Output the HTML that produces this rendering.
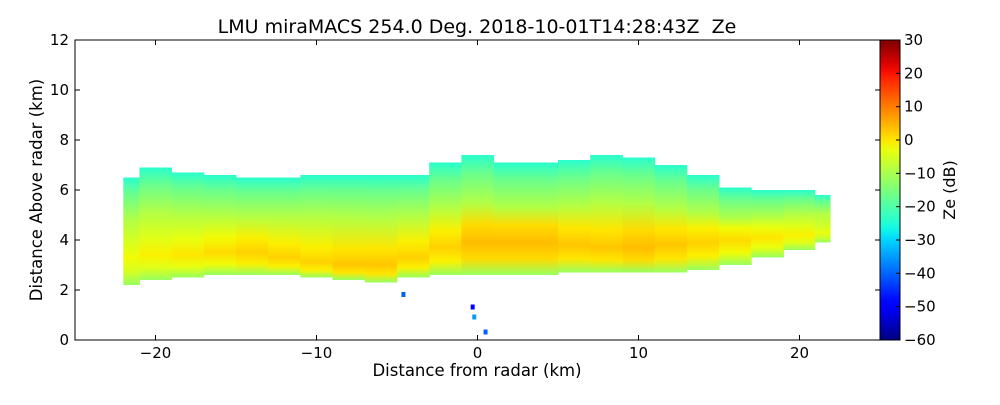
<!DOCTYPE html>
<html><head><meta charset="utf-8"><style>
body{margin:0;background:#fff;}
svg text{font-family:"DejaVu Sans","Liberation Sans",sans-serif;fill:#000;}
</style></head><body>
<svg id="c" width="1000" height="400" xmlns="http://www.w3.org/2000/svg">
<defs id="defs"></defs>
<text x="477" y="33" font-size="19" text-anchor="middle" xml:space="preserve">LMU miraMACS 254.0 Deg. 2018-10-01T14:28:43Z  Ze</text>
<g id="plot"></g>
<g id="axes"></g>
</svg>
<script>
const xKm=[-22,-20,-18,-16,-14,-12,-10,-8,-6,-4,-2,0,2,4,6,8,10,12,14,16,18,20,21.9];
const topKm=[6.5,6.9,6.7,6.6,6.5,6.5,6.6,6.6,6.6,6.6,7.1,7.4,7.1,7.1,7.2,7.4,7.3,7.0,6.6,6.1,6.0,6.0,5.8];
const baseKm=[2.2,2.4,2.5,2.6,2.6,2.6,2.5,2.4,2.3,2.5,2.6,2.6,2.6,2.6,2.7,2.7,2.7,2.7,2.8,3.0,3.3,3.6,3.9];
const coreKm=[3.3,3.4,3.4,3.5,3.5,3.3,3.1,3.0,3.0,3.3,3.7,3.9,3.9,3.9,3.8,3.7,3.7,3.8,3.9,4.0,4.1,4.2,4.3];
const coreDb=[-2,-1,0,1,2,2,2,3,3,2,2,4,4,4,3,3,4,3,2,1,0,-1,-3];
const xTicks=[-20,-10,0,10,20];
const yTicks=[0,2,4,6,8,10,12];
const cbTicks=[30,20,10,0,-10,-20,-30,-40,-50,-60];

const X0=75,X1=880,Y0=340,Y1=40;
const sx=v=>X0+(v+25)/50*(X1-X0);
const sy=v=>Y0-v/12*(Y0-Y1);
const cy=v=>340-(v+60)/90*300;
function interp(t,pts){for(let i=1;i<pts.length;i++){if(t<=pts[i][0]){const a=pts[i-1],b=pts[i];return a[1]+(b[1]-a[1])*(t-a[0])/(b[0]-a[0]);}}return pts[pts.length-1][1];}
function jet(v){const t=Math.max(0,Math.min(1,(v+60)/90));
 const r=interp(t,[[0,0],[0.35,0],[0.66,1],[0.89,1],[1,0.5]]);
 const g=interp(t,[[0,0],[0.125,0],[0.375,1],[0.64,1],[0.91,0],[1,0]]);
 const b=interp(t,[[0,0.5],[0.11,1],[0.34,1],[0.65,0],[1,0]]);
 return `rgb(${Math.round(255*r)},${Math.round(255*g)},${Math.round(255*b)})`;}
const NS="http://www.w3.org/2000/svg";
function mk(tag,at,parent){const e=document.createElementNS(NS,tag);for(const k in at)e.setAttribute(k,at[k]);parent.appendChild(e);return e;}
const defs=document.getElementById('defs'),plot=document.getElementById('plot'),axes=document.getElementById('axes');
xKm.forEach((x,i)=>{
 const top=topKm[i],base=baseKm[i],core=coreKm[i],h=top-base;
 const left=i===0?x:(x+xKm[i-1])/2, right=i===xKm.length-1?x:(x+xKm[i+1])/2;
 const g=mk('linearGradient',{id:'g'+i,x1:0,y1:1,x2:0,y2:0},defs);
 const c=(core-base)/h;
 const stops=[[0,-12],[c*0.5,coreDb[i]-3],[c,coreDb[i]],[c+0.15,coreDb[i]-3],[0.6,-9],[0.85,-17],[1,-24]];
 stops.forEach(s=>mk('stop',{offset:Math.min(1,s[0]),'stop-color':jet(s[1])},g));
 const r=mk('rect',{x:sx(left),y:sy(top),width:sx(right)-sx(left)+0.5,height:sy(base)-sy(top),fill:`url(#g${i})`},plot);
 
 
});
[[-4.6,1.8,-40],[-0.3,1.3,-50],[0.5,0.3,-40],[-0.2,0.9,-35]].forEach(p=>{
 const r=mk('rect',{x:sx(p[0])-2,y:sy(p[1])-3,width:4,height:5,fill:jet(p[2])},plot);
 
 
});
mk('rect',{x:X0,y:Y1,width:X1-X0,height:Y0-Y1,fill:'none',stroke:'#000','stroke-width':1},axes);
xTicks.forEach(t=>{const x=sx(t);
 mk('line',{x1:x,x2:x,y1:Y0,y2:Y0-5,stroke:'#000'},axes);mk('line',{x1:x,x2:x,y1:Y1,y2:Y1+5,stroke:'#000'},axes);
 const tx=mk('text',{x:x,y:358,'font-size':15,'text-anchor':'middle'},axes);tx.textContent=(t<0?'\u2212':'')+Math.abs(t);
 });
yTicks.forEach(t=>{const y=sy(t);
 mk('line',{x1:X0,x2:X0+5,y1:y,y2:y,stroke:'#000'},axes);mk('line',{x1:X1,x2:X1-5,y1:y,y2:y,stroke:'#000'},axes);
 const tx=mk('text',{x:69,y:y+5,'font-size':15,'text-anchor':'end'},axes);tx.textContent=t;
 });
let xt=mk('text',{x:477,y:376,'font-size':16.5,'text-anchor':'middle'},axes);xt.textContent='Distance from radar (km)';

let yt=mk('text',{x:42,y:190,'font-size':16.5,'text-anchor':'middle','xml:space':'preserve',transform:'rotate(-90 42 190)'},axes);yt.textContent='Distance Above radar  (km)';

const cg=mk('linearGradient',{id:'cbg',x1:0,y1:1,x2:0,y2:0},defs);
for(let k=0;k<=30;k++){mk('stop',{offset:k/30,'stop-color':jet(-60+90*k/30)},cg);}
const cb=mk('rect',{x:880,y:40,width:20,height:300,fill:'url(#cbg)',stroke:'#000','stroke-width':1},axes);

cbTicks.forEach(t=>{const y=cy(t);
 mk('line',{x1:896,x2:900,y1:y,y2:y,stroke:'#000'},axes);
 const tx=mk('text',{x:904,y:y+5,'font-size':15},axes);tx.textContent=(t<0?'\u2212':'')+Math.abs(t);
 });
let ct=mk('text',{x:955,y:190,'font-size':16,'text-anchor':'middle',transform:'rotate(-90 955 190)'},axes);ct.textContent='Ze (dB)';

</script>
</body></html>
